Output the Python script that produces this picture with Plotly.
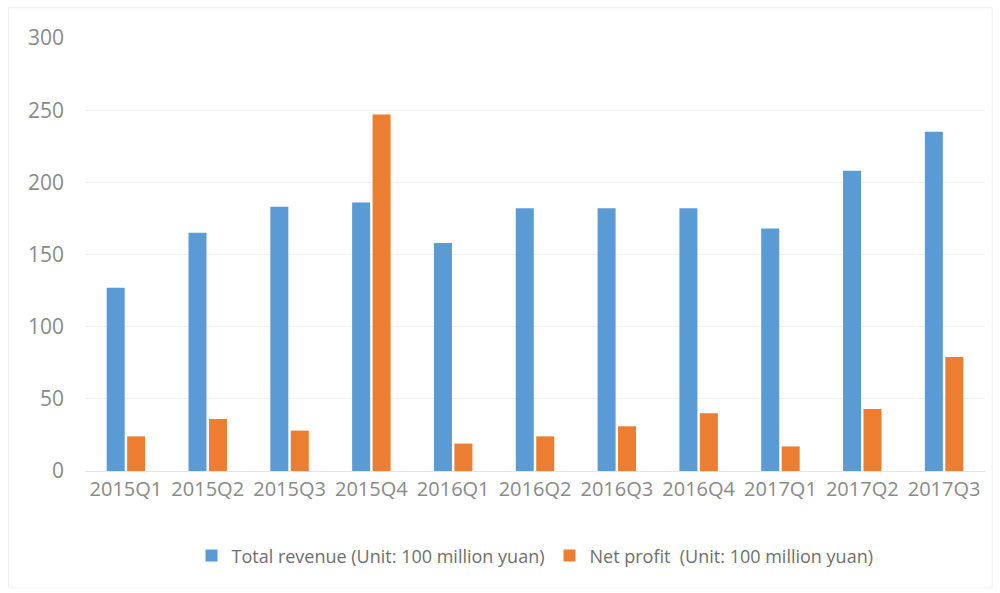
import plotly.graph_objects as go

categories = ["2015Q1", "2015Q2", "2015Q3", "2015Q4", "2016Q1", "2016Q2",
              "2016Q3", "2016Q4", "2017Q1", "2017Q2", "2017Q3"]
total_revenue = [127, 165, 183, 186, 158, 182, 182, 182, 168, 208, 235]
net_profit = [24, 36, 28, 247, 19, 24, 31, 40, 17, 43, 79]
y_ticks = [0, 50, 100, 150, 200, 250, 300]

fig = go.Figure()
fig.add_trace(go.Bar(x=categories, y=total_revenue,
                     name="Total revenue (Unit: 100 million yuan)",
                     marker=dict(color="#5B9BD5", line=dict(width=0))))
fig.add_trace(go.Bar(x=categories, y=net_profit,
                     name="Net profit  (Unit: 100 million yuan)",
                     marker=dict(color="#ED7D31", line=dict(width=0))))

fig.update_layout(
    width=1000, height=593,
    margin=dict(l=85, r=15, t=38, b=122),
    paper_bgcolor="white", plot_bgcolor="white",
    barmode="group", bargap=0.5, bargroupgap=0.12,
    font=dict(family="Open Sans", color="#7f7f7f"),
    showlegend=True,
    legend=dict(orientation="h", x=0.5, xanchor="center", y=-0.196, yanchor="middle",
                font=dict(size=18, color="#6f6f6f"), traceorder="normal",
                itemwidth=30),
    xaxis=dict(tickfont=dict(size=20, color="#8a8a8a"), showgrid=False,
               showline=True, linecolor="#e6e6e6", ticks=""),
    yaxis=dict(range=[0, 300], tickvals=y_ticks, tickfont=dict(size=21, color="#8a8a8a"),
               showgrid=True, gridcolor="#efefef", zeroline=False, ticks="",
               ticklabelstandoff=20),
    shapes=[dict(type="rect", xref="paper", yref="paper", x0=-0.085, x1=1.008,
                 y0=-0.27, y1=1.07, line=dict(color="#eeeeee", width=1))],
)

fig.write_html("out.html")
